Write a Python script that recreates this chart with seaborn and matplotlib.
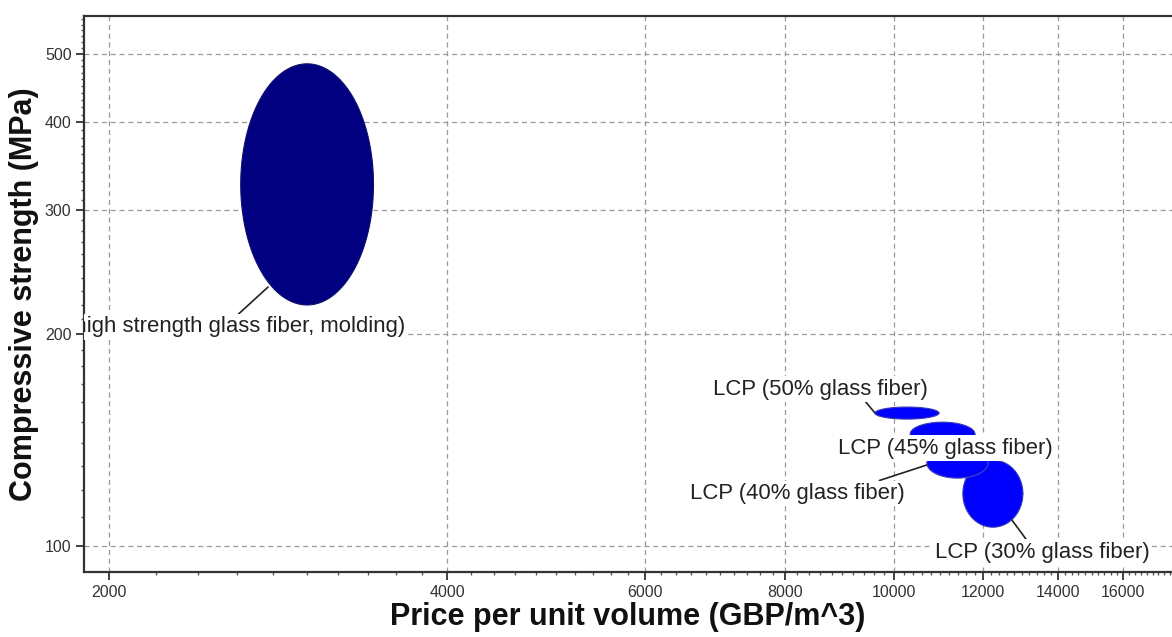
import numpy as np
import seaborn as sns
import matplotlib.pyplot as plt
from matplotlib.ticker import NullFormatter

# material property ranges (price in GBP/m^3, compressive strength in MPa)
materials = [
    "(high strength glass fiber, molding)",
    "LCP (30% glass fiber)",
    "LCP (40% glass fiber)",
    "LCP (45% glass fiber)",
    "LCP (50% glass fiber)",
]
price_min = [2620, 11520, 10700, 10340, 9620]
price_max = [3440, 13030, 12130, 11810, 10970]
strength_min = [220, 106.4, 124.9, 138.7, 151.5]
strength_max = [484, 132.5, 137.8, 150.0, 157.6]
fill_colors = ["#000080", "#0000ff", "#0000ff", "#0000ff", "#0000ff"]
edge_colors = ["#101070", "#3a3ab8", "#4a4ab0", "#3a3ab8", "#3a3ab8"]

x_ticks = [2000, 4000, 6000, 8000, 10000, 12000, 14000, 16000]
y_ticks = [100, 200, 300, 400, 500]

# label placement (text position, leader anchor, where the leader leaves the box)
label_pos = [(3670, 204.8), (13573, 98.1), (8206, 118.9), (11114, 137.8), (8610, 167.1)]
anchor_pos = [(2771, 233.3), (12741, 108.9), (10700, 130.4), None, (9618, 154.6)]
label_relpos = [(0.5, 1.0), (0.43, 1.0), (0.85, 1.0), None, (0.7, 0.0)]
label_ha = ["right", "center", "center", "center", "center"]


def log_ellipse(x0, x1, y0, y1, n=240):
    """Ellipse spanning the given ranges, drawn as an ellipse in log-log space."""
    t = np.linspace(0, 2 * np.pi, n)
    lx = np.log10([x0, x1])
    ly = np.log10([y0, y1])
    x = 10 ** (lx.mean() + (lx[1] - lx[0]) / 2 * np.cos(t))
    y = 10 ** (ly.mean() + (ly[1] - ly[0]) / 2 * np.sin(t))
    return x, y


sns.set_theme(style="ticks")
plt.rcParams["font.family"] = ["Liberation Sans", "DejaVu Sans"]

fig = plt.figure(figsize=(11.72, 6.37), dpi=100)
ax = fig.add_axes([0.0717, 0.102, 0.9283, 0.873])
ax.set_xscale("log")
ax.set_yscale("log")

for i, name in enumerate(materials):
    ex, ey = log_ellipse(price_min[i], price_max[i], strength_min[i], strength_max[i])
    ax.fill(ex, ey, color=fill_colors[i], lw=0, zorder=2 + i)
    sns.lineplot(x=ex, y=ey, sort=False, estimator=None, color=edge_colors[i],
                 lw=0.8, ax=ax, zorder=2 + i)

for i, name in enumerate(materials):
    tx, ty = label_pos[i]
    bbox = dict(boxstyle="square,pad=0.1", fc="white", ec="none")
    if anchor_pos[i] is None:
        ax.text(tx, ty, name, ha=label_ha[i], va="center", fontsize=15.9,
                color="#222222", bbox=bbox, zorder=10, clip_on=True)
    else:
        ax.annotate(name, xy=anchor_pos[i], xytext=(tx, ty), ha=label_ha[i], va="center",
                    fontsize=15.9, color="#222222", bbox=bbox, zorder=10,
                    annotation_clip=False, clip_on=True,
                    arrowprops=dict(arrowstyle="-", color="#222222", lw=1.2,
                                    relpos=label_relpos[i], shrinkA=0, shrinkB=0))

ax.set_xlim(1900, 17690)
ax.set_ylim(91.9, 566)

ax.set_xticks(x_ticks, labels=[str(v) for v in x_ticks])
ax.set_xticks([v for v in range(2200, 17700, 200) if v not in x_ticks], minor=True)
ax.set_yticks(y_ticks, labels=[str(v) for v in y_ticks])
ax.set_yticks([v for v in range(110, 566, 10) if v not in y_ticks], minor=True)
ax.xaxis.set_minor_formatter(NullFormatter())
ax.yaxis.set_minor_formatter(NullFormatter())

ax.tick_params(which="major", direction="out", length=6, width=1.3, color="#333333",
               labelsize=11.5, labelcolor="#333333", pad=3)
ax.tick_params(which="minor", direction="out", length=2.5, width=1.0, color="#555555")

ax.grid(True, which="major", linestyle=(0, (4, 3)), color="#999999", lw=0.9)
ax.set_axisbelow(True)

for side in ["left", "bottom", "top"]:
    ax.spines[side].set_visible(True)
    ax.spines[side].set_color("#333333")
    ax.spines[side].set_linewidth(1.6)
ax.spines["right"].set_visible(False)

ax.set_xlabel("Price per unit volume (GBP/m^3)", fontsize=22, fontweight="bold",
              color="#111111", labelpad=2)
ax.set_ylabel("Compressive strength (MPa)", fontsize=22, fontweight="bold",
              color="#111111", labelpad=4)

fig.savefig("out.png", dpi=100)
